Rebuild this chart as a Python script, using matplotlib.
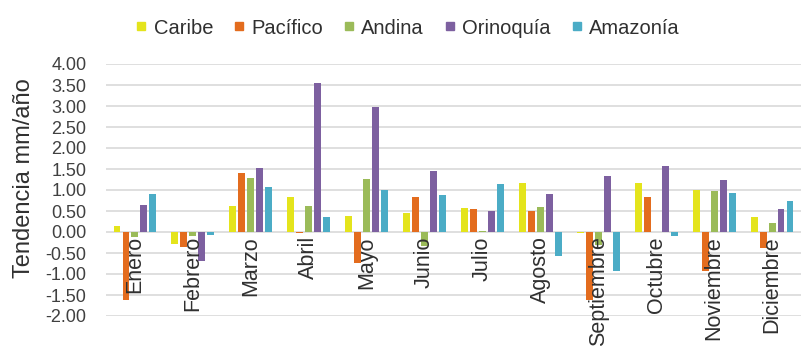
import matplotlib
matplotlib.use("Agg")
import matplotlib.pyplot as plt
from matplotlib.lines import Line2D
import numpy as np

months = ["Enero", "Febrero", "Marzo", "Abril", "Mayo", "Junio", "Julio",
          "Agosto", "Septiembre", "Octubre", "Noviembre", "Diciembre"]
series_names = ["Caribe", "Pacífico", "Andina", "Orinoquía", "Amazonía"]
caribe = [0.15, -0.28, 0.62, 0.83, 0.38, 0.46, 0.56, 1.17, -0.03, 1.17, 1.00, 0.35]
pacifico = [-1.62, -0.35, 1.41, -0.03, -0.73, 0.83, 0.54, 0.51, -1.63, 0.83, -0.92, -0.37]
andina = [-0.12, -0.10, 1.29, 0.63, 1.27, -0.33, 0.02, 0.60, -0.30, 0.01, 0.97, 0.22]
orinoquia = [0.65, -0.68, 1.52, 3.54, 2.97, 1.46, 0.49, 0.90, 1.33, 1.57, 1.25, 0.54]
amazonia = [0.90, -0.08, 1.06, 0.35, 1.00, 0.89, 1.14, -0.57, -0.92, -0.10, 0.92, 0.73]
yticks = [4.0, 3.5, 3.0, 2.5, 2.0, 1.5, 1.0, 0.5, 0.0, -0.5, -1.0, -1.5, -2.0]
ylabel = "Tendencia mm/año"

series = [caribe, pacifico, andina, orinoquia, amazonia]
colors = ["#E4E41C", "#E36C1E", "#9BBB59", "#7D60A0", "#4BACC6"]

plt.rcParams['font.family'] = ['Liberation Sans', 'DejaVu Sans']
W, H = 809, 350
fig = plt.figure(figsize=(W / 100, H / 100), dpi=100)
ax = fig.add_axes([106 / W, 1 - 316 / H, (801 - 106) / W, (316 - 64) / H])

x = np.arange(len(months))
pitch = 0.155
bw = 0.12
for i, (vals, c) in enumerate(zip(series, colors)):
    ax.bar(x + (i - 2) * pitch, vals, width=bw, color=c, zorder=3)

ax.set_xlim(-0.5, len(months) - 0.5)
ax.set_ylim(-2, 4)
ax.set_yticks(yticks)
ax.set_yticklabels([f"{v:.2f}" for v in yticks], fontsize=13, color="#404040")
ax.tick_params(axis='y', length=0, pad=14)
ax.set_xticks([])
ax.grid(axis='y', color="#D9D9D9", linewidth=1.2, zorder=0)
for s in ax.spines.values():
    s.set_visible(False)

for i, m in enumerate(months):
    ax.annotate(m, xy=(i, 0), xytext=(0, -3), textcoords='offset points',
                rotation=90, ha='center', va='top', fontsize=15.5,
                color="#303030", zorder=5, annotation_clip=False)

fig.text(24 / W, 1 - 178 / H, ylabel, rotation=90, ha='center', va='center',
         fontsize=17, color="#303030")

handles = [Line2D([], [], marker='s', linestyle='none', markersize=5.8,
                  color=c) for c in colors]
fig.legend(handles, series_names, loc='center', bbox_to_anchor=(407.5 / W, 1 - 28 / H),
           ncol=5, frameon=False, fontsize=14.5, handlelength=0.6,
           handletextpad=0.3, columnspacing=1.0, labelcolor="#303030",
           borderpad=0.2)

fig.savefig("out.png", dpi=100)
